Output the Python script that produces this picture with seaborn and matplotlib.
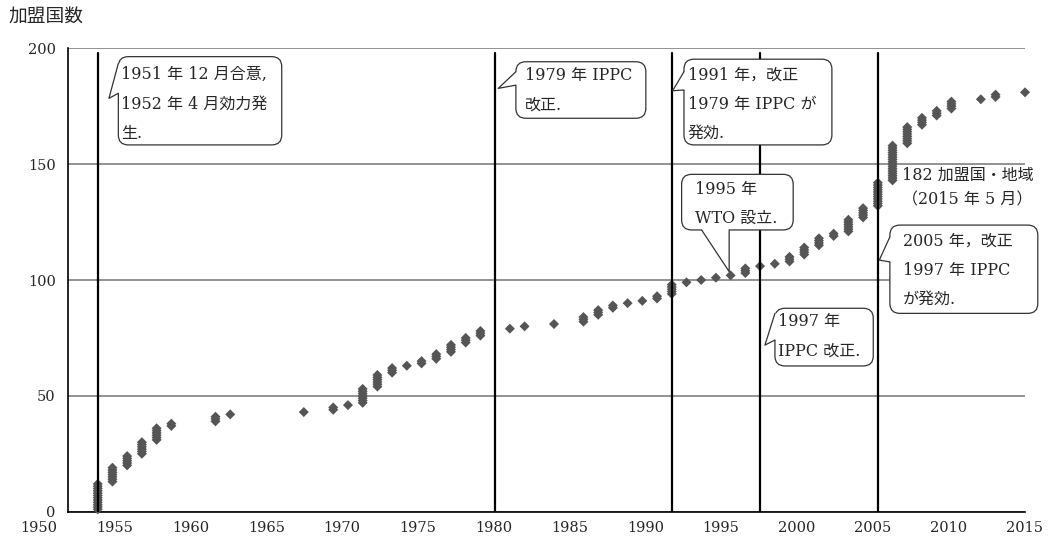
import numpy as np
import pandas as pd
import matplotlib
matplotlib.use("Agg")
import matplotlib.pyplot as plt
import seaborn as sns
from matplotlib.patches import FancyBboxPatch, Polygon
from matplotlib.lines import Line2D

# ---------------- data ----------------
join_years = [1952, 1953, 1954, 1955, 1956, 1957, 1960, 1961, 1966, 1968, 1969,
              1970, 1971, 1972, 1973, 1974, 1975, 1976, 1977, 1978, 1980, 1981,
              1983, 1985, 1986, 1987, 1988, 1989, 1990, 1991, 1992, 1993, 1994,
              1995, 1996, 1997, 1998, 1999, 2000, 2001, 2002, 2003, 2004, 2005,
              2006, 2007, 2008, 2009, 2010, 2012, 2013, 2015]
new_members = [12, 7, 5, 6, 6, 2, 3, 1, 1, 2, 1,
               7, 6, 3, 1, 2, 3, 4, 3, 3, 1, 1,
               1, 3, 3, 2, 1, 1, 2, 5, 1, 1, 1,
               1, 3, 1, 1, 3, 4, 4, 2, 6, 5, 11,
               16, 8, 4, 3, 4, 1, 2, 1]
event_years = [1952, 1979, 1991, 1997, 2005]
y_ticks = [0, 50, 100, 150, 200]
x_ticks = list(range(1950, 2016, 5))
x_tick_labels = [str(v) for v in x_ticks]
y_axis_title = "加盟国数"
total_label = "182 加盟国・地域\n（2015 年 5 月）"

callout_texts = [
    "1951 年 12 月合意,\n1952 年 4 月効力発\n生.",
    "1979 年 IPPC\n改正.",
    "1991 年，改正\n1979 年 IPPC が\n発効.",
    "1995 年\nWTO 設立.",
    "1997 年\nIPPC 改正.",
    "2005 年，改正\n1997 年 IPPC\nが発効.",
]
# box (x0, y0, x1, y1), pointer (base1, tip, base2), text anchor -- data coords
callout_boxes = [
    (1953.40, 158.3, 1964.50, 196.4),
    (1980.41, 169.8, 1989.24, 194.2),
    (1991.83, 158.3, 2001.88, 195.3),
    (1991.67, 121.6, 1999.25, 145.6),
    (1998.01, 62.9, 2004.69, 87.8),
    (2005.82, 85.6, 2015.87, 123.7),
]
callout_pointers = [
    ((1953.40, 193.5), (1952.76, 178.4), (1953.40, 180.6), "left"),
    ((1980.41, 189.9), (1979.21, 182.7), (1980.41, 184.1), "left"),
    ((1991.83, 189.9), (1991.06, 181.7), (1991.83, 182.0), "left"),
    ((1993.03, 121.6), (1994.90, 103.6), (1994.90, 121.6), "bottom"),
    ((1998.01, 85.6), (1997.33, 71.9), (1998.01, 74.1), "left"),
    ((2005.82, 118.6), (2005.10, 108.6), (2005.82, 107.8), "left"),
]
callout_text_pos = [
    (1953.60, 176.0), (1981.00, 182.0), (1992.10, 175.9),
    (1992.55, 132.8), (1998.20, 75.7), (2006.70, 104.3),
]

# ---------------- style ----------------
sns.set_style("white")
plt.rcParams["font.family"] = ["DejaVu Serif", "Noto Sans CJK JP"]
plt.rcParams["font.size"] = 10.5

W, H = 1053, 544
fig = plt.figure(figsize=(W / 100, H / 100), dpi=100)
ax_l, ax_r, ax_t, ax_b = 68.3, 1025.0, 48.3, 511.7
ax = fig.add_axes([ax_l / W, 1 - ax_b / H, (ax_r - ax_l) / W, (ax_b - ax_t) / H])

rows = []
cum = 0
for yr, n in zip(join_years, new_members):
    for _ in range(n):
        cum += 1
        rows.append((yr, cum))
df = pd.DataFrame(rows, columns=["year", "members"])

sns.scatterplot(data=df, x="year", y="members", marker="D", s=26,
                color="#555555", edgecolor="none", linewidth=0, ax=ax,
                zorder=3, clip_on=False, legend=False)

ax.set_xlabel("")
ax.set_ylabel("")

# grid
ax.set_yticks(y_ticks)
ax.set_yticklabels([str(v) for v in y_ticks])
ax.yaxis.grid(True, color="#808080", lw=1.2, zorder=1)
ax.xaxis.grid(False)
ax.set_axisbelow(True)

# x ticks: marks at 5-year steps; labels placed as in the reference (shifted)
ax.set_xticks(x_ticks)
ax.set_xticklabels([])
ax.tick_params(axis="x", which="major", length=4, width=1, direction="out",
               color="black")
ax.tick_params(axis="y", which="major", length=5, width=1, direction="out",
               color="black", labelsize=10.5, pad=4)
ax.set_xlim(1950, 2015)
ax.set_ylim(0, 200)

label_pos = np.linspace(1948.0, 2014.95, len(x_tick_labels))
for lp, lbl in zip(label_pos, x_tick_labels):
    ax.annotate(lbl, xy=(lp, 0), xycoords=("data", "axes fraction"),
                xytext=(0, -6.5), textcoords="offset points", ha="center",
                va="top", fontsize=10.5, annotation_clip=False)

for s in ["top", "right"]:
    ax.spines[s].set_visible(False)
for s in ["left", "bottom"]:
    ax.spines[s].set_color("black")
    ax.spines[s].set_linewidth(1.2)

# event lines
for ev in event_years:
    ax.axvline(ev, ymin=0, ymax=0.99, color="black", lw=1.6, zorder=4)

# callouts
px_per_x = (ax_r - ax_l) / 65.0
px_per_y = (ax_b - ax_t) / 200.0
aspect = px_per_x / px_per_y
rnd = 10.0 / px_per_x
ex = 2.0 / px_per_x
ey = 2.0 / px_per_y
for txt, box, ptr, tpos in zip(callout_texts, callout_boxes, callout_pointers,
                               callout_text_pos):
    x0, y0, x1, y1 = box
    patch = FancyBboxPatch((x0, y0), x1 - x0, y1 - y0,
                           boxstyle=f"round,pad=0,rounding_size={rnd}",
                           mutation_aspect=aspect, facecolor="white",
                           edgecolor="#333333", lw=0.9, zorder=5,
                           clip_on=False)
    ax.add_patch(patch)
    b1, tip, b2, side = ptr
    if side == "left":
        c1 = (b1[0] + ex, b1[1]); c2 = (b2[0] + ex, b2[1])
    else:
        c1 = (b1[0], b1[1] + ey); c2 = (b2[0], b2[1] + ey)
    poly = Polygon([c1, b1, tip, b2, c2], closed=True, facecolor="white",
                   edgecolor="none", zorder=6, clip_on=False)
    ax.add_patch(poly)
    ax.add_line(Line2D([b1[0], tip[0], b2[0]], [b1[1], tip[1], b2[1]],
                       color="#333333", lw=0.9, zorder=7, clip_on=False))
    ax.text(tpos[0], tpos[1], txt, ha="left", va="center", fontsize=11.5,
            linespacing=1.95, zorder=8, clip_on=False)

ax.text(2006.62, 140.0, total_label, ha="left", va="center", fontsize=11.5,
        linespacing=1.6, zorder=8, clip_on=False)

fig.text(8 / W, 1 - 16.5 / H, y_axis_title, ha="left", va="center",
         fontsize=13.5)

fig.savefig("out.png", dpi=100)
